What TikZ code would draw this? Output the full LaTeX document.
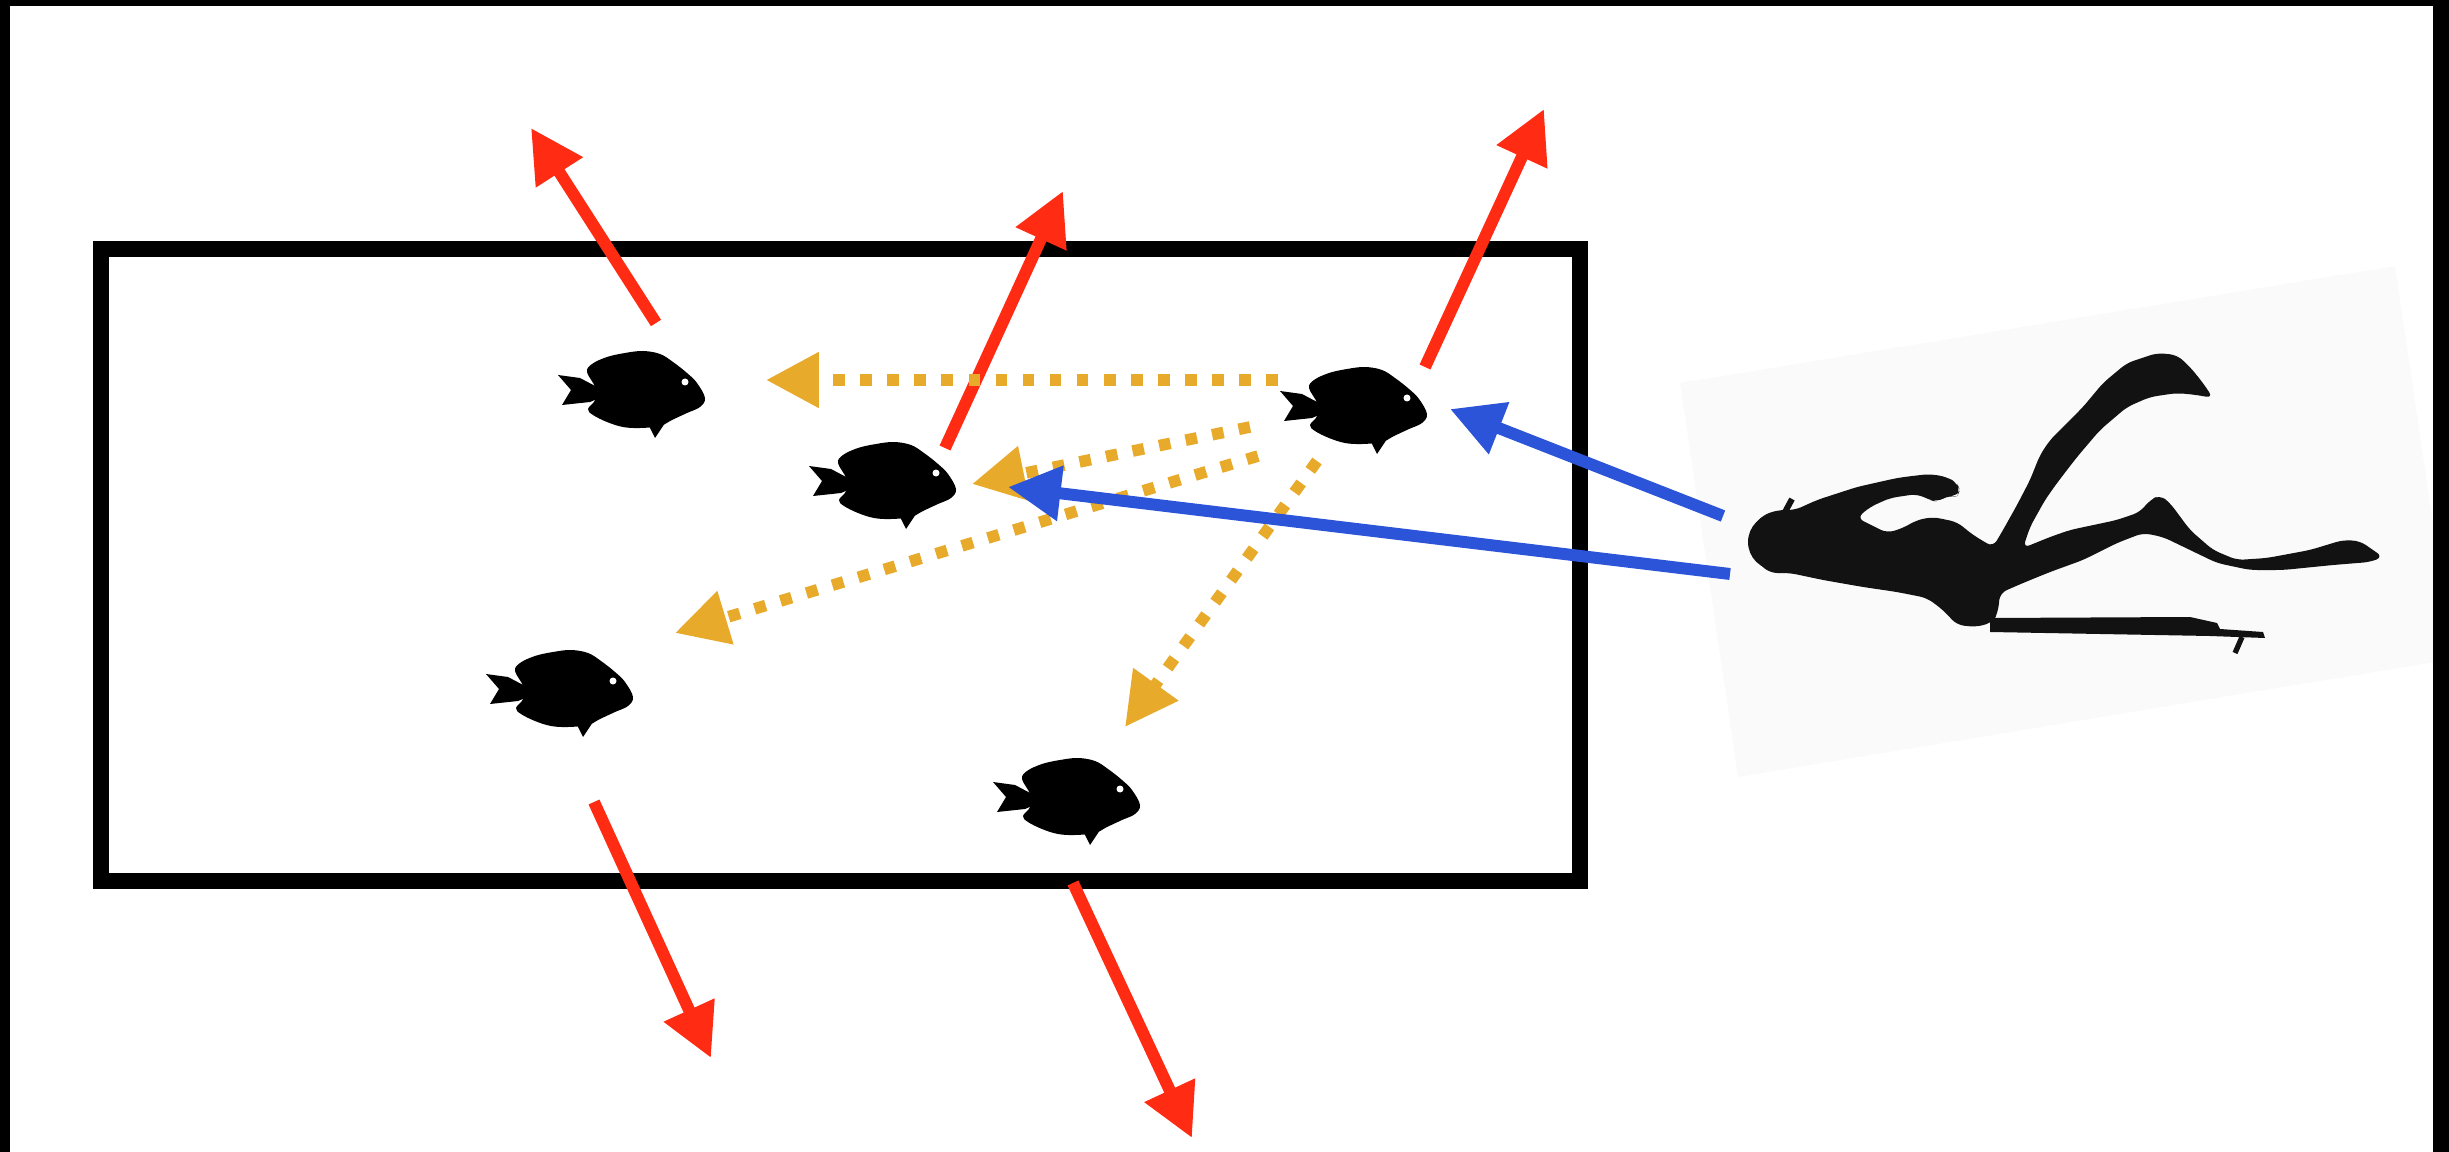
\documentclass[tikz,border=0pt]{standalone}
\usepackage{tikz}
\usetikzlibrary{arrows.meta}
\definecolor{escred}{RGB}{255,43,18}
\definecolor{lookblue}{RGB}{44,84,217}
\definecolor{alarmgold}{RGB}{232,170,42}

\begin{document}
\begin{tikzpicture}[x=0.01cm,y=-0.01cm,
    flee_arrow/.style={draw=escred,line width=3.4pt,-{Triangle[length=15pt,width=15pt]}},
    diver_arrow/.style={draw=lookblue,line width=3.4pt,-{Triangle[length=15pt,width=15pt]}},
    alarm_arrow/.style={draw=alarmgold,line width=3.3pt,dash pattern=on 3.3pt off 4.4pt,-{Triangle[length=15pt,width=15pt]}},
    fish/.pic={
        \fill plot[smooth cycle,tension=0.6] coordinates {(-37,-6) (-45,-21) (-40,-29) (-25,-36) (-7,-40)
            (11,-42) (28,-39) (41,-31) (55,-20) (65,-10) (73,5) (68,14) (55,20) (40,27) (28,33)
            (8,35) (-9,34) (-25,29) (-39,22) (-44,16) (-37,7)};
        \fill (-35,-6) -- (-52,-15) -- (-74,-18) -- (-61,-3) -- (-70,12) -- (-42,9) -- (-35,6) -- cycle;
        \fill (33,30) -- (23,45) -- (17,33) -- cycle;
        \fill[white] (53,-11) circle (3.5);
    }]

    \useasboundingbox (0,0) rectangle (2449,1152);

    % tilted backdrop behind the diver
    \fill[black!2] (1680,383) -- (2395,266) -- (2453,659) -- (1738,777) -- cycle;

    % page frame
    \fill (0,0) rectangle (2449,6);
    \fill (0,0) rectangle (10,1152);
    \fill (2433,0) rectangle (2449,1152);

    % the school area
    \draw[line width=4.5pt] (101,249) rectangle (1580,881);

    \coordinate (f1) at (632,393);
    \coordinate (f2) at (883,484);
    \coordinate (f3) at (1354,409);
    \coordinate (f4) at (560,692);
    \coordinate (f5) at (1067,800);
    \pic at (f1) {fish};
    \pic at (f2) {fish};
    \pic at (f3) {fish};
    \pic at (f4) {fish};
    \pic at (f5) {fish};

    % diver with speargun
    \fill[black!93,rounded corners=2pt] (1750,540) -- (1754,525) -- (1763,515) -- (1778,510) -- (1795,510)
        -- (1817,500) -- (1857,487) -- (1897,478) -- (1912,476) -- (1930,474) -- (1947,477) -- (1957,483)
        -- (1960,490) -- (1957,497) -- (1950,495) -- (1937,502) -- (1930,500) -- (1917,494) -- (1890,498)
        -- (1870,507) -- (1857,518) -- (1887,533) -- (1903,528) -- (1917,520) -- (1933,517) -- (1957,522)
        -- (1973,535) -- (1993,547) -- (2003,530) -- (2017,505) -- (2030,480) -- (2040,455) -- (2050,440)
        -- (2083,407) -- (2103,383) -- (2127,363) -- (2157,353) -- (2177,355) -- (2190,367) -- (2203,383)
        -- (2213,398) -- (2197,395) -- (2177,393) -- (2150,397) -- (2127,407) -- (2100,430) -- (2077,457)
        -- (2057,483) -- (2045,500) -- (2030,527) -- (2023,548) -- (2050,537) -- (2070,530) -- (2117,520)
        -- (2140,512) -- (2150,500) -- (2160,495) -- (2170,503) -- (2190,530) -- (2213,550) -- (2237,560)
        -- (2267,558) -- (2310,550) -- (2343,540) -- (2360,541) -- (2383,557) -- (2370,562) -- (2333,565)
        -- (2283,570) -- (2250,570) -- (2217,563) -- (2190,550) -- (2163,537) -- (2143,533) -- (2117,543)
        -- (2083,560) -- (2050,572) -- (2023,583) -- (2000,593) -- (1998,612) -- (1993,622) -- (1977,627)
        -- (1957,625) -- (1943,610) -- (1927,598) -- (1897,592) -- (1863,587) -- (1823,580) -- (1790,573)
        -- (1770,573) -- (1757,562) -- cycle;
    \fill[black!93] (1776,542) circle (28);
    \draw[black!93,line width=1.7pt] (1785,512) -- (1792,499);
    \fill[black!93] (1990,618) -- (2190,617) -- (2217,623) -- (2220,629) -- (2263,632) -- (2265,638)
        -- (2210,636) -- (1990,632) -- cycle;
    \draw[black!93,line width=1.5pt] (2242,637) -- (2235,653);

    \coordinate (r1a) at (656,323);
    \coordinate (r1b) at (531,128);
    \coordinate (r2a) at (945,448);
    \coordinate (r2b) at (1063,191);
    \coordinate (r3a) at (1425,367);
    \coordinate (r3b) at (1544,109);
    \coordinate (r4a) at (594,802);
    \coordinate (r4b) at (711,1058);
    \coordinate (r5a) at (1073,883);
    \coordinate (r5b) at (1192,1138);
    \draw[flee_arrow] (r1a) -- (r1b);
    \draw[flee_arrow] (r2a) -- (r2b);
    \draw[flee_arrow] (r3a) -- (r3b);
    \draw[flee_arrow] (r4a) -- (r4b);
    \draw[flee_arrow] (r5a) -- (r5b);

    \coordinate (o1a) at (1278,380);
    \coordinate (o1b) at (766,380);
    \coordinate (o2a) at (1250,427);
    \coordinate (o2b) at (972,484);
    \coordinate (o3a) at (1258,456);
    \coordinate (o3b) at (675,633);
    \coordinate (o4a) at (1317,461);
    \coordinate (o4b) at (1125,727);
    \draw[alarm_arrow] (o1a) -- (o1b);
    \draw[alarm_arrow] (o2a) -- (o2b);
    \draw[alarm_arrow] (o3a) -- (o3b);
    \draw[alarm_arrow] (o4a) -- (o4b);

    \coordinate (b1a) at (1723,516);
    \coordinate (b1b) at (1450,409);
    \coordinate (b2a) at (1730,574);
    \coordinate (b2b) at (1008,487);
    \draw[diver_arrow] (b1a) -- (b1b);
    \draw[diver_arrow] (b2a) -- (b2b);
\end{tikzpicture}
\end{document}
